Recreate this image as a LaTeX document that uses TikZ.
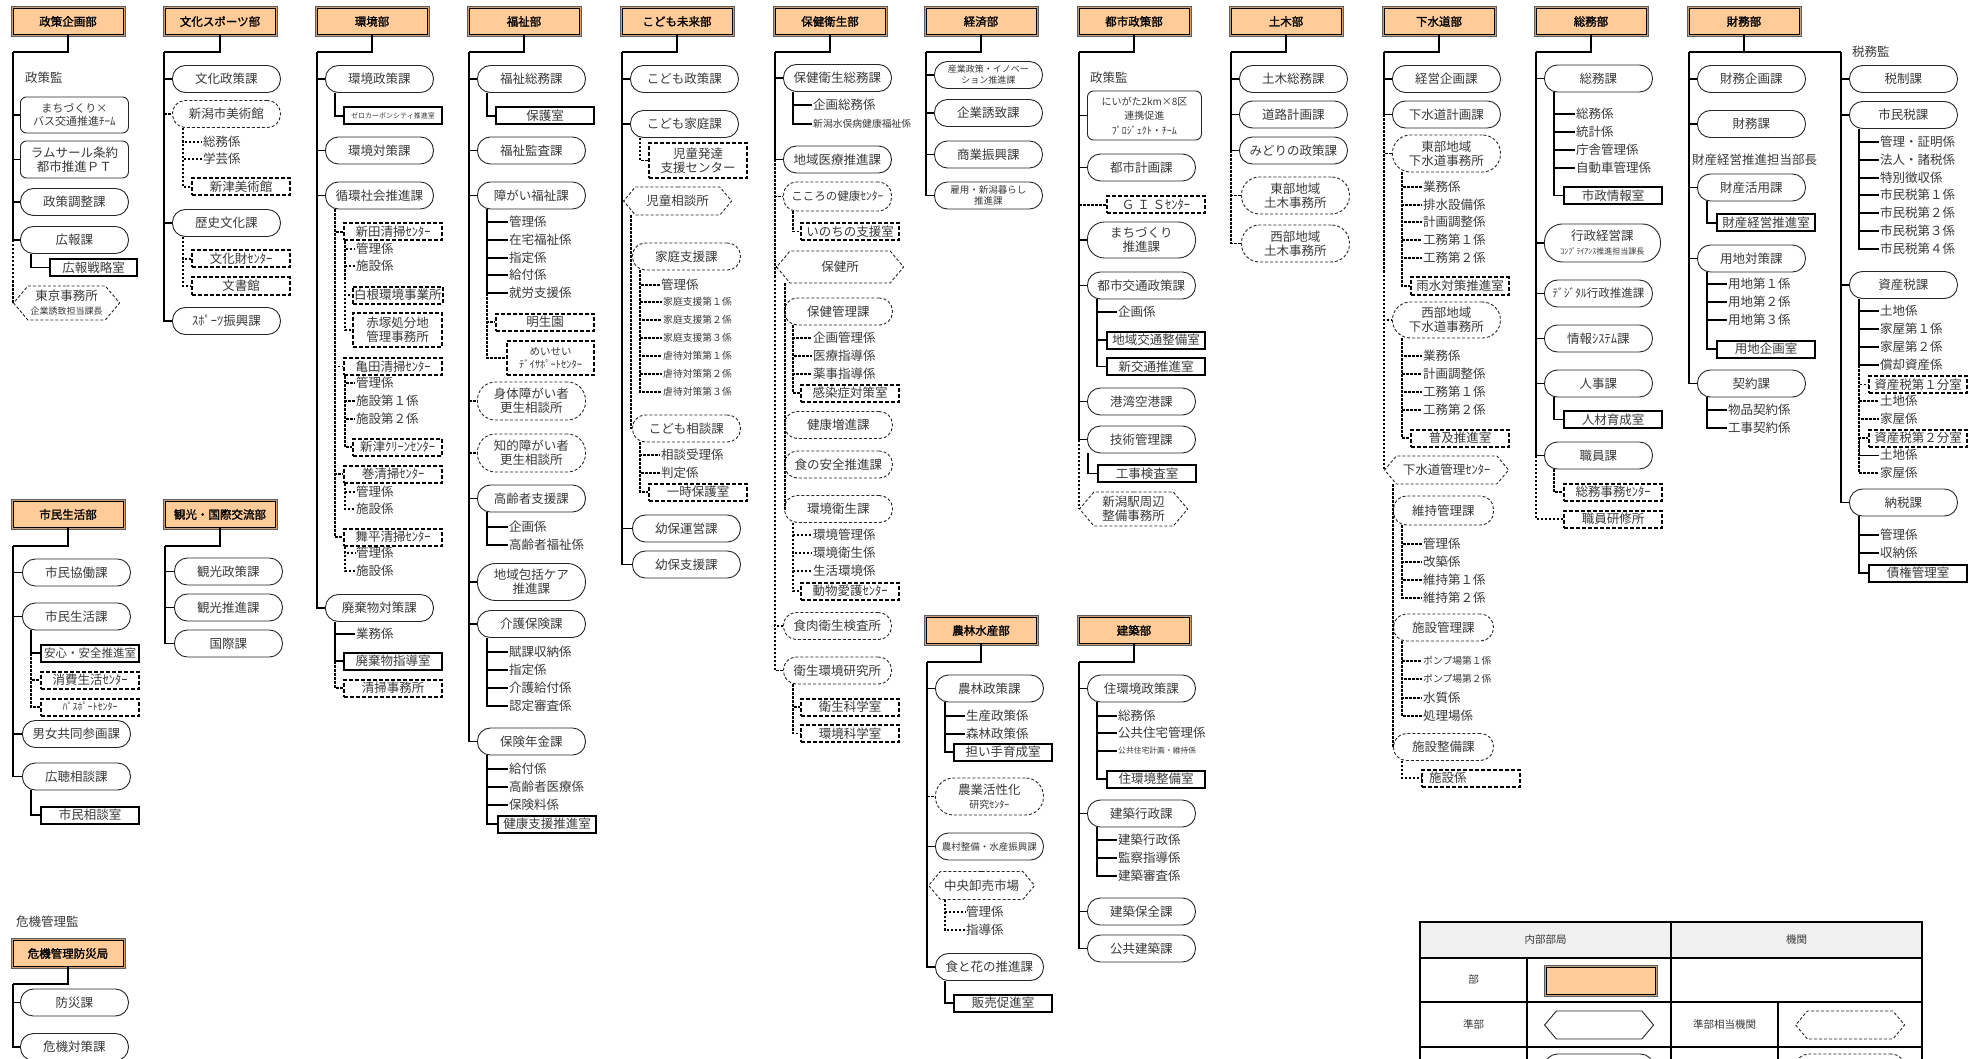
\documentclass[tikz,border=0pt]{standalone}
\usepackage{fontspec}
\setmainfont{Noto Sans CJK JP}[AutoFakeBold=1.5]
\usetikzlibrary{shapes.symbols}

\definecolor{deptfill}{HTML}{FFCC99}
\definecolor{deptedge}{HTML}{5E5E5E}
\definecolor{depttan}{HTML}{C8A07A}
\definecolor{ink}{HTML}{3A3A3A}
\definecolor{headgray}{HTML}{F0F0F0}

\tikzset{
  dept/.style={rectangle, fill=deptfill, draw=black, line width=1pt,
    minimum width=110pt, minimum height=26pt, inner sep=1pt,
    preaction={draw=deptedge, line width=5pt},
    preaction={draw=depttan, line width=3pt},
    font=\bfseries\fontsize{11.5}{13}\selectfont},
  conn/.style={line width=1.8pt},
  connd/.style={line width=1.8pt, dash pattern=on 2.5pt off 1.5pt},
  ka/.style={rectangle, rounded corners=13pt, draw=black!85, line width=0.9pt,
    minimum width=108pt, minimum height=27pt, inner sep=1pt, anchor=west,
    align=center, text=ink, font=\fontsize{12.5}{14}\selectfont},
  kad/.style={ka, dash pattern=on 3pt off 2pt},
  kabox/.style={ka, rounded corners=6pt},
  room/.style={rectangle, draw=black, line width=2pt, minimum width=98pt,
    minimum height=17pt, inner sep=1pt, anchor=west,
    align=center, text=ink, font=\fontsize{12.5}{14}\selectfont},
  roomd/.style={room, dash pattern=on 4pt off 2pt},
  hexd/.style={signal, signal to=west and east, signal pointer angle=100,
    draw=black!85, line width=0.9pt, dash pattern=on 3pt off 2pt,
    minimum width=108pt, minimum height=28pt, inner sep=1pt, anchor=west,
    align=center, text=ink, font=\fontsize{12.5}{14}\selectfont},
  hexs/.style={hexd, solid},
  kk/.style={anchor=west, inner sep=1pt, text=ink, font=\fontsize{12.5}{14}\selectfont},
  kks/.style={kk, font=\fontsize{9.8}{11}\selectfont},
  kkt/.style={kk, font=\fontsize{7.8}{9}\selectfont},
  lgtext/.style={text=ink, font=\fontsize{10.5}{12}\selectfont},
}

\begin{document}
\begin{tikzpicture}[x=1pt, y=-1pt]
\useasboundingbox (0,0) rectangle (1980,1059);
\clip (0,0) rectangle (1980,1059);
\fill[white] (0,0) rectangle (1980,1059);

% 政策企画部
\node[dept] (d0) at (68,21.5) {政策企画部};
\coordinate (c0) at (13,52);
\draw[conn] (d0.south) |- (c0);
\node[kk] (c0t) at (24,78) {政策監};
\node[kabox, minimum height=36pt, font=\fontsize{11}{13}\selectfont] (c0k1) at (20,115) {まちづくり×\\バス交通推進ﾁｰﾑ};
\node[kabox, minimum height=37pt] (c0k2) at (20,159.5) {ラムサール条約\\都市推進ＰＴ};
\node[ka] (c0k3) at (20,202) {政策調整課};
\node[ka] (c0k4) at (20,240) {広報課};
\node[room, minimum width=87pt] (c0k4a) at (49,267.5) {広報戦略室};
\node[hexd, minimum width=106pt, minimum height=34pt] (c0h5) at (13,303) {東京事務所\\{\fontsize{9}{10}\selectfont 企業誘致担当課長}};
\draw[conn] (c0) |- (c0k1.west);
\draw[conn] (c0) |- (c0k2.west);
\draw[conn] (c0) |- (c0k3.west);
\draw[conn] (c0) |- (c0k4.west);
\draw[conn] (c0k4.south -| 31,0) |- (c0k4a.west);
\draw[connd] (c0 |- c0k4.west) |- (c0h5.west);

% 文化スポーツ部
\node[dept] (d1) at (220,21.5) {文化スポーツ部};
\coordinate (c1) at (164,52);
\draw[conn] (d1.south) |- (c1);
\node[ka] (c1k1) at (172,79) {文化政策課};
\node[kad] (c1k2) at (172,114) {新潟市美術館};
\node[kk] (c1k2a) at (202,142) {総務係};
\node[kk] (c1k2b) at (202,159) {学芸係};
\node[roomd] (c1k2c) at (191,187) {新津美術館};
\node[ka] (c1k3) at (172,223) {歴史文化課};
\node[roomd] (c1k3a) at (191,259) {文化財ｾﾝﾀｰ};
\node[roomd] (c1k3b) at (191,286) {文書館};
\node[ka] (c1k4) at (172,321) {ｽﾎﾟｰﾂ振興課};
\draw[conn] (c1) |- (c1k1.west);
\draw[connd] (c1 |- c1k2.west) -- (c1k2.west);
\draw[conn] (c1) |- (c1k3.west);
\draw[conn] (c1) |- (c1k4.west);
\draw[connd] (c1k2.south -| 183,0) |- (c1k2a.west);
\draw[connd] (c1k2.south -| 183,0) |- (c1k2b.west);
\draw[connd] (c1k2.south -| 183,0) |- (c1k2c.west);
\draw[connd] (c1k3.south -| 183,0) |- (c1k3a.west);
\draw[connd] (c1k3.south -| 183,0) |- (c1k3b.west);

% 環境部
\node[dept] (d2) at (372,21.5) {環境部};
\coordinate (c2) at (317,52);
\draw[conn] (d2.south) |- (c2);
\node[ka] (c2k1) at (325,79) {環境政策課};
\node[room, font=\fontsize{7}{8}\selectfont] (c2k1a) at (343,116) {ゼロカーボンシティ推進室};
\node[ka] (c2k2) at (325,150.5) {環境対策課};
\node[ka] (c2k3) at (325,195.5) {循環社会推進課};
\node[roomd] (c2k3a) at (343,232) {新田清掃ｾﾝﾀｰ};
\node[kk] (c2k3a1) at (355,249) {管理係};
\node[kk] (c2k3a2) at (355,266) {施設係};
\node[roomd, minimum width=89pt] (c2k3a3) at (352,295) {白根環境事業所};
\node[roomd, minimum width=89pt, minimum height=34pt] (c2k3a4) at (352,330) {赤塚処分地\\管理事務所};
\node[roomd] (c2k3b) at (343,366.5) {亀田清掃ｾﾝﾀｰ};
\node[kk] (c2k3b1) at (355,383) {管理係};
\node[kk] (c2k3b2) at (355,401) {施設第１係};
\node[kk] (c2k3b3) at (355,419) {施設第２係};
\node[roomd, minimum width=89pt] (c2k3b4) at (352,447) {新津ｸﾘｰﾝｾﾝﾀｰ};
\node[roomd] (c2k3c) at (343,474) {巻清掃ｾﾝﾀｰ};
\node[kk] (c2k3c1) at (355,492) {管理係};
\node[kk] (c2k3c2) at (355,509) {施設係};
\node[roomd] (c2k3d) at (343,537) {舞平清掃ｾﾝﾀｰ};
\node[kk] (c2k3d1) at (355,553) {管理係};
\node[kk] (c2k3d2) at (355,571) {施設係};
\node[ka] (c2k4) at (325,608) {廃棄物対策課};
\node[kk] (c2k4a) at (355,634) {業務係};
\node[room] (c2k4b) at (343,661) {廃棄物指導室};
\node[roomd] (c2k4c) at (343,688) {清掃事務所};
\draw[conn] (c2) |- (c2k1.west);
\draw[conn] (c2) |- (c2k2.west);
\draw[conn] (c2) |- (c2k3.west);
\draw[conn] (c2) |- (c2k4.west);
\draw[conn] (c2k1.south -| 335,0) |- (c2k1a.west);
\draw[connd] (c2k3.south -| 335,0) |- (c2k3a.west);
\draw[connd] (c2k3.south -| 335,0) |- (c2k3b.west);
\draw[connd] (c2k3.south -| 335,0) |- (c2k3c.west);
\draw[connd] (c2k3.south -| 335,0) |- (c2k3d.west);
\draw[connd] (c2k3a.south -| 345,0) |- (c2k3a1.west);
\draw[connd] (c2k3a.south -| 345,0) |- (c2k3a2.west);
\draw[connd] (c2k3a.south -| 345,0) |- (c2k3a3.west);
\draw[connd] (c2k3a.south -| 345,0) |- (c2k3a4.west);
\draw[connd] (c2k3b.south -| 345,0) |- (c2k3b1.west);
\draw[connd] (c2k3b.south -| 345,0) |- (c2k3b2.west);
\draw[connd] (c2k3b.south -| 345,0) |- (c2k3b3.west);
\draw[connd] (c2k3b.south -| 345,0) |- (c2k3b4.west);
\draw[connd] (c2k3c.south -| 345,0) |- (c2k3c1.west);
\draw[connd] (c2k3c.south -| 345,0) |- (c2k3c2.west);
\draw[connd] (c2k3d.south -| 345,0) |- (c2k3d1.west);
\draw[connd] (c2k3d.south -| 345,0) |- (c2k3d2.west);
\draw[conn] (c2k4.south -| 335,0) |- (c2k4a.west);
\draw[conn] (c2k4.south -| 335,0) |- (c2k4b.west);
\draw[connd] (c2k4b.west -| 335,0) |- (c2k4c.west);

% 福祉部
\node[dept] (d3) at (524,21.5) {福祉部};
\coordinate (c3) at (469,52);
\draw[conn] (d3.south) |- (c3);
\node[ka] (c3k1) at (477,79) {福祉総務課};
\node[room] (c3k1a) at (495,116) {保護室};
\node[ka] (c3k2) at (477,150.5) {福祉監査課};
\node[ka] (c3k3) at (477,195.5) {障がい福祉課};
\node[kk] (c3k3a) at (508,222) {管理係};
\node[kk] (c3k3b) at (508,240) {在宅福祉係};
\node[kk] (c3k3c) at (508,258) {指定係};
\node[kk] (c3k3d) at (508,275) {給付係};
\node[kk] (c3k3e) at (508,293) {就労支援係};
\node[roomd] (c3k3f) at (495,322) {明生園};
\node[roomd, minimum width=87pt, minimum height=34pt, font=\fontsize{10.5}{12.5}\selectfont] (c3k3g) at (506,358) {めいせい\\ﾃﾞｲｻﾎﾟｰﾄｾﾝﾀｰ};
\node[kad, minimum height=38pt, rounded corners=18pt] (c3k4) at (477,401) {身体障がい者\\更生相談所};
\node[kad, minimum height=38pt, rounded corners=18pt] (c3k5) at (477,453) {知的障がい者\\更生相談所};
\node[ka] (c3k6) at (477,498.5) {高齢者支援課};
\node[kk] (c3k6a) at (508,527) {企画係};
\node[kk] (c3k6b) at (508,545) {高齢者福祉係};
\node[ka, minimum height=37pt, rounded corners=18pt] (c3k7) at (477,582) {地域包括ケア\\推進課};
\node[ka] (c3k8) at (477,624) {介護保険課};
\node[kk] (c3k8a) at (508,652) {賦課収納係};
\node[kk] (c3k8b) at (508,670) {指定係};
\node[kk] (c3k8c) at (508,688) {介護給付係};
\node[kk] (c3k8d) at (508,706) {認定審査係};
\node[ka] (c3k9) at (477,741.5) {保険年金課};
\node[kk] (c3k9a) at (508,769) {給付係};
\node[kk] (c3k9b) at (508,787) {高齢者医療係};
\node[kk] (c3k9c) at (508,805) {保険料係};
\node[room] (c3k9d) at (497,824) {健康支援推進室};
\draw[conn] (c3) |- (c3k1.west);
\draw[conn] (c3) |- (c3k2.west);
\draw[conn] (c3) |- (c3k3.west);
\draw[connd] (c3 |- c3k4.west) -- (c3k4.west);
\draw[connd] (c3 |- c3k5.west) -- (c3k5.west);
\draw[conn] (c3) |- (c3k6.west);
\draw[conn] (c3) |- (c3k7.west);
\draw[conn] (c3) |- (c3k8.west);
\draw[conn] (c3) |- (c3k9.west);
\draw[conn] (c3k1.south -| 487,0) |- (c3k1a.west);
\draw[conn] (c3k3.south -| 487,0) |- (c3k3a.west);
\draw[conn] (c3k3.south -| 487,0) |- (c3k3b.west);
\draw[conn] (c3k3.south -| 487,0) |- (c3k3c.west);
\draw[conn] (c3k3.south -| 487,0) |- (c3k3d.west);
\draw[conn] (c3k3.south -| 487,0) |- (c3k3e.west);
\draw[connd] (c3k3e.west -| 487,0) |- (c3k3f.west);
\draw[connd] (c3k3e.west -| 487,0) |- (c3k3g.west);
\draw[conn] (c3k6.south -| 487,0) |- (c3k6a.west);
\draw[conn] (c3k6.south -| 487,0) |- (c3k6b.west);
\draw[conn] (c3k8.south -| 487,0) |- (c3k8a.west);
\draw[conn] (c3k8.south -| 487,0) |- (c3k8b.west);
\draw[conn] (c3k8.south -| 487,0) |- (c3k8c.west);
\draw[conn] (c3k8.south -| 487,0) |- (c3k8d.west);
\draw[conn] (c3k9.south -| 487,0) |- (c3k9a.west);
\draw[conn] (c3k9.south -| 487,0) |- (c3k9b.west);
\draw[conn] (c3k9.south -| 487,0) |- (c3k9c.west);
\draw[conn] (c3k9.south -| 487,0) |- (c3k9d.west);

% こども未来部
\node[dept] (d4) at (677,21.5) {こども未来部};
\coordinate (c4) at (622,52);
\draw[conn] (d4.south) |- (c4);
\node[ka] (c4k1) at (630,79) {こども政策課};
\node[ka] (c4k2) at (630,124) {こども家庭課};
\node[roomd, minimum height=35pt] (c4k2a) at (648,160.5) {児童発達\\支援センター};
\node[hexd] (c4h3) at (623,201) {児童相談所};
\node[kad] (c4h3a) at (632,256.5) {家庭支援課};
\node[kk] (c4h3a1) at (660,285) {管理係};
\node[kks] (c4h3a2) at (662,302) {家庭支援第１係};
\node[kks] (c4h3a3) at (662,320) {家庭支援第２係};
\node[kks] (c4h3a4) at (662,338) {家庭支援第３係};
\node[kks] (c4h3a5) at (662,356) {虐待対策第１係};
\node[kks] (c4h3a6) at (662,374) {虐待対策第２係};
\node[kks] (c4h3a7) at (662,392) {虐待対策第３係};
\node[kad] (c4h3b) at (632,428.5) {こども相談課};
\node[kk] (c4h3b1) at (660,455) {相談受理係};
\node[kk] (c4h3b2) at (660,473) {判定係};
\node[roomd] (c4h3b3) at (648,492) {一時保護室};
\node[ka] (c4k4) at (632,528.5) {幼保運営課};
\node[ka] (c4k5) at (632,564.5) {幼保支援課};
\draw[conn] (c4) |- (c4k1.west);
\draw[conn] (c4) |- (c4k2.west);
\draw[connd] (c4 |- c4h3.west) -- (c4h3.west);
\draw[conn] (c4) |- (c4k4.west);
\draw[conn] (c4) |- (c4k5.west);
\draw[connd] (c4k2.south -| 640,0) |- (c4k2a.west);
\draw[connd] (c4h3.south -| 631,0) |- (c4h3a.west);
\draw[connd] (c4h3.south -| 631,0) |- (c4h3b.west);
\draw[connd] (c4h3a.south -| 640,0) |- (c4h3a1.west);
\draw[connd] (c4h3a.south -| 640,0) |- (c4h3a2.west);
\draw[connd] (c4h3a.south -| 640,0) |- (c4h3a3.west);
\draw[connd] (c4h3a.south -| 640,0) |- (c4h3a4.west);
\draw[connd] (c4h3a.south -| 640,0) |- (c4h3a5.west);
\draw[connd] (c4h3a.south -| 640,0) |- (c4h3a6.west);
\draw[connd] (c4h3a.south -| 640,0) |- (c4h3a7.west);
\draw[connd] (c4h3b.south -| 640,0) |- (c4h3b1.west);
\draw[connd] (c4h3b.south -| 640,0) |- (c4h3b2.west);
\draw[connd] (c4h3b.south -| 640,0) |- (c4h3b3.west);

% 保健衛生部
\node[dept] (d5) at (830,21.5) {保健衛生部};
\coordinate (c5) at (775,52);
\draw[conn] (d5.south) |- (c5);
\node[ka] (c5k1) at (783,78) {保健衛生総務課};
\node[kk] (c5k1a) at (812,105) {企画総務係};
\node[kks] (c5k1b) at (812,124) {新潟水俣病健康福祉係};
\node[ka] (c5k2) at (783,159.5) {地域医療推進課};
\node[kad, minimum height=29pt, font=\fontsize{11.5}{13}\selectfont] (c5k3) at (783,196.5) {こころの健康ｾﾝﾀｰ};
\node[roomd] (c5k3a) at (800,231.5) {いのちの支援室};
\node[hexd, minimum width=127pt, minimum height=32pt] (c5h4) at (776,267) {保健所};
\node[kad] (c5h4a) at (784,311.5) {保健管理課};
\node[kk] (c5h4a1) at (812,338) {企画管理係};
\node[kk] (c5h4a2) at (812,356) {医療指導係};
\node[kk] (c5h4a3) at (812,374) {薬事指導係};
\node[roomd] (c5h4a4) at (800,393) {感染症対策室};
\node[kad] (c5h4b) at (784,425) {健康増進課};
\node[kad] (c5h4c) at (784,464.5) {食の安全推進課};
\node[kad] (c5h4d) at (784,509) {環境衛生課};
\node[kk] (c5h4d1) at (812,535) {環境管理係};
\node[kk] (c5h4d2) at (812,553) {環境衛生係};
\node[kk] (c5h4d3) at (812,571) {生活環境係};
\node[roomd] (c5h4d4) at (800,591) {動物愛護ｾﾝﾀｰ};
\node[kad] (c5k5) at (783,626) {食肉衛生検査所};
\node[kad] (c5k6) at (783,670.5) {衛生環境研究所};
\node[roomd] (c5k6a) at (800,707) {衛生科学室};
\node[roomd] (c5k6b) at (800,733.5) {環境科学室};
\draw[conn] (c5) |- (c5k1.west);
\draw[conn] (c5) |- (c5k2.west);
\draw[connd] (c5 |- c5k2.west) |- (c5k3.west);
\draw[connd] (c5 |- c5k2.west) |- (c5h4.west);
\draw[connd] (c5 |- c5k2.west) |- (c5k5.west);
\draw[connd] (c5 |- c5k2.west) |- (c5k6.west);
\draw[conn] (c5k1.south -| 793,0) |- (c5k1a.west);
\draw[conn] (c5k1.south -| 793,0) |- (c5k1b.west);
\draw[connd] (c5k3.south -| 793,0) |- (c5k3a.west);
\draw[connd] (c5h4.south -| 785,0) |- (c5h4a.west);
\draw[connd] (c5h4.south -| 785,0) |- (c5h4b.west);
\draw[connd] (c5h4.south -| 785,0) |- (c5h4c.west);
\draw[connd] (c5h4.south -| 785,0) |- (c5h4d.west);
\draw[connd] (c5h4a.south -| 793,0) |- (c5h4a1.west);
\draw[connd] (c5h4a.south -| 793,0) |- (c5h4a2.west);
\draw[connd] (c5h4a.south -| 793,0) |- (c5h4a3.west);
\draw[connd] (c5h4a.south -| 793,0) |- (c5h4a4.west);
\draw[connd] (c5h4d.south -| 793,0) |- (c5h4d1.west);
\draw[connd] (c5h4d.south -| 793,0) |- (c5h4d2.west);
\draw[connd] (c5h4d.south -| 793,0) |- (c5h4d3.west);
\draw[connd] (c5h4d.south -| 793,0) |- (c5h4d4.west);
\draw[connd] (c5k6.south -| 793,0) |- (c5k6a.west);
\draw[connd] (c5k6.south -| 793,0) |- (c5k6b.west);

% 経済部
\node[dept] (d6) at (981,21.5) {経済部};
\coordinate (c6) at (926,52);
\draw[conn] (d6.south) |- (c6);
\node[ka, font=\fontsize{9}{11}\selectfont] (c6k1) at (934,75) {産業政策・イノベー\\ション推進課};
\node[ka] (c6k2) at (934,113) {企業誘致課};
\node[ka] (c6k3) at (934,154.5) {商業振興課};
\node[ka, font=\fontsize{9.5}{11.5}\selectfont] (c6k4) at (934,195.5) {雇用・新潟暮らし\\推進課};
\draw[conn] (c6) |- (c6k1.west);
\draw[conn] (c6) |- (c6k2.west);
\draw[conn] (c6) |- (c6k3.west);
\draw[conn] (c6) |- (c6k4.west);

% 都市政策部
\node[dept] (d7) at (1134,21.5) {都市政策部};
\coordinate (c7) at (1079,52);
\draw[conn] (d7.south) |- (c7);
\node[kk] (c7t) at (1089,78) {政策監};
\node[kabox, minimum width=114pt, minimum height=49pt, font=\fontsize{10}{14.5}\selectfont] (c7k1) at (1087,115.5) {にいがた2km×8区\\連携促進\\ﾌﾟﾛｼﾞｪｸﾄ・ﾁｰﾑ};
\node[ka] (c7k2) at (1087,167.5) {都市計画課};
\node[roomd] (c7k2a) at (1106,205) {Ｇ Ｉ Ｓｾﾝﾀｰ};
\node[ka, minimum height=36pt, rounded corners=17pt] (c7k3) at (1087,240) {まちづくり\\推進課};
\node[ka] (c7k4) at (1087,285.5) {都市交通政策課};
\node[kk] (c7k4a) at (1117,312) {企画係};
\node[room] (c7k4b) at (1106,340) {地域交通整備室};
\node[room] (c7k4c) at (1106,366.5) {新交通推進室};
\node[ka] (c7k5) at (1087,401.5) {港湾空港課};
\node[ka] (c7k6) at (1087,439.5) {技術管理課};
\node[room] (c7k6a) at (1097,473.5) {工事検査室};
\node[hexd, minimum height=34pt] (c7h7) at (1079,509) {新潟駅周辺\\整備事務所};
\draw[conn] (c7) |- (c7k1.west);
\draw[conn] (c7) |- (c7k2.west);
\draw[connd] (c7 |- c7k2a.west) -- (c7k2a.west);
\draw[conn] (c7) |- (c7k3.west);
\draw[conn] (c7) |- (c7k4.west);
\draw[conn] (c7) |- (c7k5.west);
\draw[conn] (c7) |- (c7k6.west);
\draw[connd] (c7 |- c7k6.west) |- (c7h7.west);
\draw[conn] (c7k4.south -| 1097,0) |- (c7k4a.west);
\draw[conn] (c7k4.south -| 1097,0) |- (c7k4b.west);
\draw[conn] (c7k4.south -| 1097,0) |- (c7k4c.west);
\draw[conn] (c7k6.south -| 1088,0) |- (c7k6a.west);

% 土木部
\node[dept] (d8) at (1286,21.5) {土木部};
\coordinate (c8) at (1231,52);
\draw[conn] (d8.south) |- (c8);
\node[ka] (c8k1) at (1239,79) {土木総務課};
\node[ka] (c8k2) at (1239,114.5) {道路計画課};
\node[ka] (c8k3) at (1239,150.5) {みどりの政策課};
\node[kad, minimum height=37pt, rounded corners=18pt] (c8k4) at (1241,195.5) {東部地域\\土木事務所};
\node[kad, minimum height=37pt, rounded corners=18pt] (c8k5) at (1241,243.5) {西部地域\\土木事務所};
\draw[conn] (c8) |- (c8k1.west);
\draw[conn] (c8) |- (c8k2.west);
\draw[conn] (c8) |- (c8k3.west);
\draw[connd] (c8 |- c8k3.west) |- (c8k4.west);
\draw[connd] (c8 |- c8k3.west) |- (c8k5.west);

% 下水道部
\node[dept] (d9) at (1439,21.5) {下水道部};
\coordinate (c9) at (1384,52);
\draw[conn] (d9.south) |- (c9);
\node[ka] (c9k1) at (1392,79) {経営企画課};
\node[ka] (c9k2) at (1392,114.5) {下水道計画課};
\node[kad, minimum height=37pt, rounded corners=18pt] (c9k3) at (1392,153.5) {東部地域\\下水道事務所};
\node[kk] (c9k3a) at (1422,187) {業務係};
\node[kk] (c9k3b) at (1422,205) {排水設備係};
\node[kk] (c9k3c) at (1422,222) {計画調整係};
\node[kk] (c9k3d) at (1422,240) {工務第１係};
\node[kk] (c9k3e) at (1422,258) {工務第２係};
\node[roomd] (c9k3f) at (1410,286) {雨水対策推進室};
\node[kad, minimum height=36pt, rounded corners=18pt] (c9k4) at (1392,320) {西部地域\\下水道事務所};
\node[kk] (c9k4a) at (1422,356) {業務係};
\node[kk] (c9k4b) at (1422,374) {計画調整係};
\node[kk] (c9k4c) at (1422,392) {工務第１係};
\node[kk] (c9k4d) at (1422,410) {工務第２係};
\node[roomd] (c9k4e) at (1410,438) {普及推進室};
\node[hexd, minimum width=124pt] (c9h5) at (1384,470) {下水道管理ｾﾝﾀｰ};
\node[kad, minimum width=100pt, minimum height=29pt] (c9h5a) at (1393,510.5) {維持管理課};
\node[kk] (c9h5a1) at (1422,544) {管理係};
\node[kk] (c9h5a2) at (1422,562) {改築係};
\node[kk] (c9h5a3) at (1422,580) {維持第１係};
\node[kk] (c9h5a4) at (1422,598) {維持第２係};
\node[kad, minimum width=100pt] (c9h5b) at (1393,627.5) {施設管理課};
\node[kks] (c9h5b1) at (1422,661) {ポンプ場第１係};
\node[kks] (c9h5b2) at (1422,679) {ポンプ場第２係};
\node[kk] (c9h5b3) at (1422,698) {水質係};
\node[kk] (c9h5b4) at (1422,716) {処理場係};
\node[kad, minimum width=100pt] (c9h5c) at (1393,747) {施設整備課};
\node[roomd, text width=84pt, align=left] (c9h5c1) at (1421,778) {施設係};
\draw[conn] (c9) |- (c9k1.west);
\draw[conn] (c9) |- (c9k2.west);
\draw[connd] (c9 |- c9k2.west) |- (c9k3.west);
\draw[connd] (c9 |- c9k2.west) |- (c9k4.west);
\draw[connd] (c9 |- c9k2.west) |- (c9h5.west);
\draw[connd] (c9k3.south -| 1402,0) |- (c9k3a.west);
\draw[connd] (c9k3.south -| 1402,0) |- (c9k3b.west);
\draw[connd] (c9k3.south -| 1402,0) |- (c9k3c.west);
\draw[connd] (c9k3.south -| 1402,0) |- (c9k3d.west);
\draw[connd] (c9k3.south -| 1402,0) |- (c9k3e.west);
\draw[connd] (c9k3.south -| 1402,0) |- (c9k3f.west);
\draw[connd] (c9k4.south -| 1402,0) |- (c9k4a.west);
\draw[connd] (c9k4.south -| 1402,0) |- (c9k4b.west);
\draw[connd] (c9k4.south -| 1402,0) |- (c9k4c.west);
\draw[connd] (c9k4.south -| 1402,0) |- (c9k4d.west);
\draw[connd] (c9k4.south -| 1402,0) |- (c9k4e.west);
\draw[connd] (c9h5.south -| 1393,0) |- (c9h5a.west);
\draw[connd] (c9h5.south -| 1393,0) |- (c9h5b.west);
\draw[connd] (c9h5.south -| 1393,0) |- (c9h5c.west);
\draw[connd] (c9h5a.south -| 1402,0) |- (c9h5a1.west);
\draw[connd] (c9h5a.south -| 1402,0) |- (c9h5a2.west);
\draw[connd] (c9h5a.south -| 1402,0) |- (c9h5a3.west);
\draw[connd] (c9h5a.south -| 1402,0) |- (c9h5a4.west);
\draw[connd] (c9h5b.south -| 1402,0) |- (c9h5b1.west);
\draw[connd] (c9h5b.south -| 1402,0) |- (c9h5b2.west);
\draw[connd] (c9h5b.south -| 1402,0) |- (c9h5b3.west);
\draw[connd] (c9h5b.south -| 1402,0) |- (c9h5b4.west);
\draw[connd] (c9h5c.south -| 1402,0) |- (c9h5c1.west);

% 総務部
\node[dept] (d10) at (1591,21.5) {総務部};
\coordinate (c10) at (1536,52);
\draw[conn] (d10.south) |- (c10);
\node[ka] (c10k1) at (1544,78.5) {総務課};
\node[kk] (c10k1a) at (1575,114) {総務係};
\node[kk] (c10k1b) at (1575,132) {統計係};
\node[kk] (c10k1c) at (1575,150) {庁舎管理係};
\node[kk] (c10k1d) at (1575,168) {自動車管理係};
\node[room] (c10k1e) at (1563,195.5) {市政情報室};
\node[ka, minimum width=116pt, minimum height=38pt, rounded corners=18pt] (c10k2) at (1544,243) {行政経営課\\{\fontsize{8}{9}\selectfont ｺﾝﾌﾟﾗｲｱﾝｽ推進担当課長}};
\node[ka, font=\fontsize{11.5}{13}\selectfont] (c10k3) at (1544,293.5) {ﾃﾞｼﾞﾀﾙ行政推進課};
\node[ka] (c10k4) at (1544,338.5) {情報ｼｽﾃﾑ課};
\node[ka] (c10k5) at (1544,383.5) {人事課};
\node[room] (c10k5a) at (1563,419.5) {人材育成室};
\node[ka] (c10k6) at (1544,455.5) {職員課};
\node[roomd] (c10k6a) at (1563,492) {総務事務ｾﾝﾀｰ};
\node[roomd] (c10k7) at (1563,519) {職員研修所};
\draw[conn] (c10) |- (c10k1.west);
\draw[conn] (c10) |- (c10k2.west);
\draw[conn] (c10) |- (c10k3.west);
\draw[conn] (c10) |- (c10k4.west);
\draw[conn] (c10) |- (c10k5.west);
\draw[conn] (c10) |- (c10k6.west);
\draw[connd] (c10 |- c10k6.west) |- (c10k7.west);
\draw[conn] (c10k1.south -| 1554,0) |- (c10k1a.west);
\draw[conn] (c10k1.south -| 1554,0) |- (c10k1b.west);
\draw[conn] (c10k1.south -| 1554,0) |- (c10k1c.west);
\draw[conn] (c10k1.south -| 1554,0) |- (c10k1d.west);
\draw[conn] (c10k1.south -| 1554,0) |- (c10k1e.west);
\draw[conn] (c10k5.south -| 1554,0) |- (c10k5a.west);
\draw[connd] (c10k6.south -| 1554,0) |- (c10k6a.west);

% 財務部
\node[dept] (d11) at (1744,21.5) {財務部};
\coordinate (c11) at (1689,52);
\coordinate (c11r) at (1841,52);
\draw[conn] (d11.south) |- (c11);
\draw[conn] (c11) -- (c11r);
\node[ka] (c11k1) at (1697,79) {財務企画課};
\node[ka] (c11k2) at (1697,124) {財務課};
\node[kk] (c11t) at (1691,160) {財産経営推進担当部長};
\node[ka] (c11k3) at (1697,187.5) {財産活用課};
\node[room] (c11k3a) at (1716,223) {財産経営推進室};
\node[ka] (c11k4) at (1697,258.5) {用地対策課};
\node[kk] (c11k4a) at (1727,284) {用地第１係};
\node[kk] (c11k4b) at (1727,302) {用地第２係};
\node[kk] (c11k4c) at (1727,320) {用地第３係};
\node[room] (c11k4d) at (1716,349) {用地企画室};
\node[ka] (c11k5) at (1697,383.5) {契約課};
\node[kk] (c11k5a) at (1727,410) {物品契約係};
\node[kk] (c11k5b) at (1727,428) {工事契約係};
\node[kk] (c11u) at (1851,52) {税務監};
\node[ka] (c11k6) at (1849,79) {税制課};
\node[ka] (c11k7) at (1849,115) {市民税課};
\node[kk] (c11k7a) at (1879,142) {管理・証明係};
\node[kk] (c11k7b) at (1879,160) {法人・諸税係};
\node[kk] (c11k7c) at (1879,178) {特別徴収係};
\node[kk] (c11k7d) at (1879,195) {市民税第１係};
\node[kk] (c11k7e) at (1879,213) {市民税第２係};
\node[kk] (c11k7f) at (1879,231) {市民税第３係};
\node[kk] (c11k7g) at (1879,249) {市民税第４係};
\node[ka] (c11k8) at (1849,285) {資産税課};
\node[kk] (c11k8a) at (1879,311) {土地係};
\node[kk] (c11k8b) at (1879,329) {家屋第１係};
\node[kk] (c11k8c) at (1879,347) {家屋第２係};
\node[kk] (c11k8d) at (1879,365) {償却資産係};
\node[roomd] (c11k8e) at (1868,384.5) {資産税第１分室};
\node[kk] (c11k8f) at (1879,401) {土地係};
\node[kk] (c11k8g) at (1879,419) {家屋係};
\node[roomd] (c11k8h) at (1868,438) {資産税第２分室};
\node[kk] (c11k8i) at (1879,455) {土地係};
\node[kk] (c11k8j) at (1879,473) {家屋係};
\node[ka] (c11k9) at (1849,502.5) {納税課};
\node[kk] (c11k9a) at (1879,535) {管理係};
\node[kk] (c11k9b) at (1879,553) {収納係};
\node[room] (c11k9c) at (1868,573) {債権管理室};
\draw[conn] (c11) |- (c11k1.west);
\draw[conn] (c11) |- (c11k2.west);
\draw[conn] (c11) |- (c11k3.west);
\draw[conn] (c11) |- (c11k4.west);
\draw[conn] (c11) |- (c11k5.west);
\draw[conn] (c11k3.south -| 1707,0) |- (c11k3a.west);
\draw[conn] (c11k4.south -| 1707,0) |- (c11k4a.west);
\draw[conn] (c11k4.south -| 1707,0) |- (c11k4b.west);
\draw[conn] (c11k4.south -| 1707,0) |- (c11k4c.west);
\draw[conn] (c11k4.south -| 1707,0) |- (c11k4d.west);
\draw[conn] (c11k5.south -| 1707,0) |- (c11k5a.west);
\draw[conn] (c11k5.south -| 1707,0) |- (c11k5b.west);
\draw[conn] (c11r) |- (c11k6.west);
\draw[conn] (c11r) |- (c11k7.west);
\draw[conn] (c11r) |- (c11k8.west);
\draw[conn] (c11r) |- (c11k9.west);
\draw[conn] (c11k7.south -| 1859,0) |- (c11k7a.west);
\draw[conn] (c11k7.south -| 1859,0) |- (c11k7b.west);
\draw[conn] (c11k7.south -| 1859,0) |- (c11k7c.west);
\draw[conn] (c11k7.south -| 1859,0) |- (c11k7d.west);
\draw[conn] (c11k7.south -| 1859,0) |- (c11k7e.west);
\draw[conn] (c11k7.south -| 1859,0) |- (c11k7f.west);
\draw[conn] (c11k7.south -| 1859,0) |- (c11k7g.west);
\draw[conn] (c11k8.south -| 1859,0) |- (c11k8a.west);
\draw[conn] (c11k8.south -| 1859,0) |- (c11k8b.west);
\draw[conn] (c11k8.south -| 1859,0) |- (c11k8c.west);
\draw[conn] (c11k8.south -| 1859,0) |- (c11k8d.west);
\draw[connd] (c11k8d.west -| 1859,0) |- (c11k8e.west);
\draw[connd] (c11k8d.west -| 1859,0) |- (c11k8f.west);
\draw[connd] (c11k8d.west -| 1859,0) |- (c11k8g.west);
\draw[connd] (c11k8d.west -| 1859,0) |- (c11k8h.west);
\draw[line width=0.8pt] (c11k8h.west -| 1859,0) |- (c11k8i.west);
\draw[connd] (c11k8d.west -| 1859,0) |- (c11k8j.west);
\draw[conn] (c11k9.south -| 1859,0) |- (c11k9a.west);
\draw[conn] (c11k9.south -| 1859,0) |- (c11k9b.west);
\draw[conn] (c11k9.south -| 1859,0) |- (c11k9c.west);

% 市民生活部
\node[dept] (d12) at (68,514.5) {市民生活部};
\coordinate (c12) at (13,546);
\draw[conn] (d12.south) |- (c12);
\node[ka] (c12k1) at (22,572.5) {市民協働課};
\node[ka] (c12k2) at (22,616.5) {市民生活課};
\node[room, font=\fontsize{11.5}{13}\selectfont] (c12k2a) at (40,653) {安心・安全推進室};
\node[roomd] (c12k2b) at (40,680) {消費生活ｾﾝﾀｰ};
\node[roomd, font=\fontsize{10}{12}\selectfont] (c12k2c) at (40,707) {ﾊﾟｽﾎﾟｰﾄｾﾝﾀｰ};
\node[ka] (c12k3) at (22,734) {男女共同参画課};
\node[ka] (c12k4) at (22,776.5) {広聴相談課};
\node[room] (c12k4a) at (40,815) {市民相談室};
\draw[conn] (c12) |- (c12k1.west);
\draw[conn] (c12) |- (c12k2.west);
\draw[conn] (c12) |- (c12k3.west);
\draw[conn] (c12) |- (c12k4.west);
\draw[conn] (c12k2.south -| 31,0) |- (c12k2a.west);
\draw[connd] (c12k2a.west -| 31,0) |- (c12k2b.west);
\draw[connd] (c12k2a.west -| 31,0) |- (c12k2c.west);
\draw[conn] (c12k4.south -| 31,0) |- (c12k4a.west);

% 観光・国際交流部
\node[dept] (d13) at (220,514.5) {観光・国際交流部};
\coordinate (c13) at (165,546);
\draw[conn] (d13.south) |- (c13);
\node[ka] (c13k1) at (174,571.5) {観光政策課};
\node[ka] (c13k2) at (174,607.5) {観光推進課};
\node[ka] (c13k3) at (174,643.5) {国際課};
\draw[conn] (c13) |- (c13k1.west);
\draw[conn] (c13) |- (c13k2.west);
\draw[conn] (c13) |- (c13k3.west);

% 農林水産部
\node[dept] (d14) at (981,630.5) {農林水産部};
\coordinate (c14) at (927,662);
\draw[conn] (d14.south) |- (c14);
\node[ka] (c14k1) at (935,688.5) {農林政策課};
\node[kk] (c14k1a) at (965,716) {生産政策係};
\node[kk] (c14k1b) at (965,734) {森林政策係};
\node[room] (c14k1c) at (953,752) {担い手育成室};
\node[kad, minimum height=37pt, rounded corners=18pt] (c14k2) at (935,796.5) {農業活性化\\{\fontsize{10}{11}\selectfont 研究ｾﾝﾀｰ}};
\node[ka, font=\fontsize{9.5}{11}\selectfont] (c14k3) at (935,846.5) {農村整備・水産振興課};
\node[hexd, minimum width=106pt] (c14h4) at (928,885.5) {中央卸売市場};
\node[kk] (c14h4a) at (965,912) {管理係};
\node[kk] (c14h4b) at (965,930) {指導係};
\node[ka] (c14k5) at (935,967) {食と花の推進課};
\node[room] (c14k5a) at (953,1003) {販売促進室};
\draw[conn] (c14) |- (c14k1.west);
\draw[connd] (c14 |- c14k2.west) -- (c14k2.west);
\draw[conn] (c14) |- (c14k3.west);
\draw[connd] (c14 |- c14h4.west) -- (c14h4.west);
\draw[conn] (c14) |- (c14k5.west);
\draw[conn] (c14k1.south -| 945,0) |- (c14k1a.west);
\draw[conn] (c14k1.south -| 945,0) |- (c14k1b.west);
\draw[conn] (c14k1.south -| 945,0) |- (c14k1c.west);
\draw[connd] (c14h4.south -| 945,0) |- (c14h4a.west);
\draw[connd] (c14h4.south -| 945,0) |- (c14h4b.west);
\draw[conn] (c14k5.south -| 945,0) |- (c14k5a.west);

% 建築部
\node[dept] (d15) at (1134,630.5) {建築部};
\coordinate (c15) at (1079,662);
\draw[conn] (d15.south) |- (c15);
\node[ka] (c15k1) at (1087,688.5) {住環境政策課};
\node[kk] (c15k1a) at (1117,716) {総務係};
\node[kk] (c15k1b) at (1117,733) {公共住宅管理係};
\node[kkt] (c15k1c) at (1117,751) {公共住宅計画・維持係};
\node[room] (c15k1d) at (1106,779) {住環境整備室};
\node[ka] (c15k2) at (1087,813.5) {建築行政課};
\node[kk] (c15k2a) at (1117,840) {建築行政係};
\node[kk] (c15k2b) at (1117,858) {監察指導係};
\node[kk] (c15k2c) at (1117,876) {建築審査係};
\node[ka] (c15k3) at (1087,911.5) {建築保全課};
\node[ka] (c15k4) at (1087,948.5) {公共建築課};
\draw[conn] (c15) |- (c15k1.west);
\draw[conn] (c15) |- (c15k2.west);
\draw[conn] (c15) |- (c15k3.west);
\draw[conn] (c15) |- (c15k4.west);
\draw[conn] (c15k1.south -| 1097,0) |- (c15k1a.west);
\draw[conn] (c15k1.south -| 1097,0) |- (c15k1b.west);
\draw[conn] (c15k1.south -| 1097,0) |- (c15k1c.west);
\draw[conn] (c15k1.south -| 1097,0) |- (c15k1d.west);
\draw[conn] (c15k2.south -| 1097,0) |- (c15k2a.west);
\draw[conn] (c15k2.south -| 1097,0) |- (c15k2b.west);
\draw[conn] (c15k2.south -| 1097,0) |- (c15k2c.west);

% 危機管理防災局
\node[kk] (c16t) at (15,922) {危機管理監};
\node[dept] (d16) at (68,953.5) {危機管理防災局};
\coordinate (c16) at (13,984);
\draw[conn] (d16.south) |- (c16);
\node[ka] (c16k1) at (20,1002.5) {防災課};
\node[ka] (c16k2) at (20,1047) {危機対策課};
\draw[conn] (c16) |- (c16k1.west);
\draw[conn] (c16) |- (c16k2.west);

% legend
\fill[headgray] (1420,922) rectangle (1922,958);
\draw[line width=2pt] (1420,922) rectangle (1922,1080);
\draw[line width=2pt] (1420,958) -- (1922,958);
\draw[line width=2pt] (1420,1002) -- (1922,1002);
\draw[line width=2pt] (1420,1047) -- (1922,1047);
\draw[line width=2pt] (1671,922) -- (1671,1080);
\draw[line width=2pt] (1527,958) -- (1527,1080);
\draw[line width=2pt] (1778,1002) -- (1778,1080);
\node[lgtext] (lg1) at (1545.5,940) {内部部局};
\node[lgtext] (lg2) at (1796.5,940) {機関};
\node[lgtext] (lg3) at (1473.5,980) {部};
\node[dept, minimum width=109pt, minimum height=27pt] (lg4) at (1600.5,980.5) {};
\node[lgtext] (lg5) at (1473.5,1024.5) {準部};
\node[hexs, minimum width=109pt] (lg6) at (1544,1025) {};
\node[lgtext] (lg7) at (1724.5,1024.5) {準部相当機関};
\node[hexd, minimum width=109pt] (lg8) at (1795,1025) {};
\node[ka, solid, minimum width=109pt, minimum height=28pt] (lg9) at (1544,1068) {};
\node[kad, minimum width=109pt, minimum height=28pt] (lg10) at (1795,1068) {};
\end{tikzpicture}
\end{document}
